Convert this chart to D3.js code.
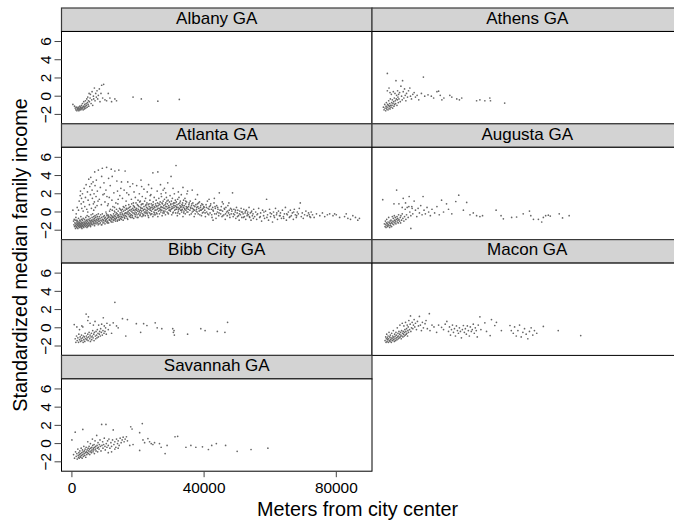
<!DOCTYPE html>
<html>
<head>
<meta charset="utf-8">
<script src="https://cdn.jsdelivr.net/npm/d3@7"></script>
<style>
  body { margin: 0; background: #fff; }
  svg { display: block; }
  text { font-family: "Liberation Sans", Arial, Helvetica, sans-serif; fill: #000; }
</style>
</head>
<body>
<svg id="chart" width="674" height="522"></svg>
<script>
// Panel titles, in reading order (left to right, top to bottom)
const cities = ["Albany GA", "Athens GA", "Atlanta GA", "Augusta GA", "Bibb City GA", "Macon GA", "Savannah GA"];

// Tract observations as flat [distance (km), standardized income, ...] lists
const albanyKm = [0.3,-0.9, 0.8,-1.1, 1.0,-1.3, 1.2,-1.5, 1.3,-1.2, 1.5,-1.6, 1.6,-1.4, 1.7,-1.3, 1.8,-1.5, 1.9,-1.2, 2.0,-1.4, 2.1,-1.6, 2.2,-1.3, 2.3,-1.5, 2.4,-1.1, 2.5,-1.4, 2.6,-1.2, 2.7,-1.5, 2.8,-1.3, 2.9,-1.0, 3.0,-1.4, 3.1,-1.2, 3.2,-0.8, 3.3,-1.3, 3.4,-1.5, 3.5,-1.1, 3.6,-0.6, 3.7,-1.2, 3.8,-1.4, 3.9,-0.9, 4.0,-1.1, 4.1,-0.5, 4.2,-1.3, 4.3,-0.8, 4.4,-1.0, 4.5,-0.3, 4.6,-1.2, 4.7,-0.7, 4.8,-0.1, 4.9,-0.9, 5.0,-0.5, 5.1,-1.1, 5.2,0.3, 5.3,-0.6, 5.5,-0.2, 5.6,0.2, 5.8,-0.8, 6.0,-0.4, 6.1,0.5, 6.3,-1.0, 6.5,0.0, 6.6,-0.3, 6.8,0.9, 7.0,-0.5, 7.2,0.3, 7.4,-0.1, 7.6,0.6, 7.8,-0.3, 8.0,0.1, 8.3,0.8, 8.5,-0.6, 8.8,0.3, 9.0,1.2, 9.3,-0.2, 9.6,1.3, 10.0,-0.4, 10.5,-0.5, 11.0,0.3, 11.5,-0.2, 12.0,-0.6, 13.0,-0.3, 13.5,-0.5, 18.5,-0.1, 21.0,-0.3, 26.0,-0.55, 32.5,-0.35];

const athensKm = [0.3,-1.2, 0.5,-1.5, 0.7,-0.9, 0.8,-1.3, 1.0,-1.6, 1.1,-1.1, 1.2,-0.7, 1.3,-1.4, 1.4,-1.2, 1.5,2.5, 1.5,0.6, 1.6,-0.9, 1.7,-1.5, 1.8,-1.0, 1.9,-0.5, 2.0,-1.3, 2.0,0.9, 2.1,-1.1, 2.2,-0.8, 2.3,-1.4, 2.3,0.4, 2.4,-0.3, 2.5,-1.0, 2.6,-1.2, 2.7,0.2, 2.8,-0.7, 2.9,-1.0, 3.0,-0.4, 3.1,-1.3, 3.2,-0.8, 3.3,0.5, 3.4,-0.6, 3.5,-1.1, 3.6,-0.2, 3.7,-0.9, 3.8,0.3, 3.9,-0.5, 4.0,-0.8, 4.1,1.7, 4.2,-0.3, 4.3,0.1, 4.4,-1.0, 4.5,-0.4, 4.6,0.6, 4.7,-0.1, 4.8,-0.7, 4.9,0.2, 5.0,-0.3, 5.2,0.4, 5.4,-0.6, 5.6,1.1, 5.8,0.0, 6.0,-0.4, 6.1,1.7, 6.3,0.5, 6.5,-0.2, 6.7,0.8, 6.9,0.1, 7.1,-0.5, 7.3,0.3, 7.6,-0.1, 7.9,0.6, 8.3,0.9, 8.5,0.0, 8.8,-0.3, 9.2,0.2, 9.6,0.4, 10.0,-0.1, 10.5,0.1, 11.0,-0.4, 11.8,0.3, 12.4,2.1, 12.8,0.0, 13.8,0.15, 14.8,0.0, 15.5,-0.2, 16.5,0.5, 17.0,0.55, 17.5,0.1, 18.0,-0.4, 18.6,-0.2, 20.4,0.1, 21.0,-0.1, 22.5,-0.3, 23.3,-0.4, 24.0,-0.2, 28.5,-0.5, 29.5,-0.4, 31.0,-0.5, 32.5,-0.2, 32.7,-0.5, 37.0,-0.75];

const atlantaKm = [
  0.3,0.2, 0.5,-1.0, 0.6,-1.4, 0.7,-0.8, 0.8,-1.6, 0.9,-1.2, 1.0,-1.5, 1.0,-0.9, 1.1,-1.8, 1.2,-1.3, 1.2,-0.6, 1.3,-1.6, 1.4,-1.1, 1.4,-1.4, 1.5,-1.7, 1.5,-0.9, 1.6,-1.3, 1.7,-1.5, 1.7,-1.0, 1.8,-1.8, 1.8,-1.2, 1.9,-1.4, 2.0,-1.6, 2.0,-0.7, 2.1,-1.3, 2.1,-1.1, 2.2,-1.5, 2.3,-1.7, 2.3,-1.2, 2.4,-0.9, 2.4,-1.4, 2.5,-1.6, 2.5,-1.0, 2.6,-1.3, 2.7,-1.5, 2.7,-0.5, 2.8,-1.2, 2.8,-1.7, 2.9,-1.4, 2.9,-0.8, 3.0,-1.1, 3.0,-1.6,
  1.6,0.5, 2.2,1.2, 2.5,1.8, 2.8,0.9, 2.0,0.2, 1.3,-0.2, 2.6,2.3, 2.9,1.5, 3.0,0.4,
  3.1,-1.3, 3.2,-1.5, 3.2,-0.9, 3.3,-1.2, 3.4,-1.6, 3.4,-0.7, 3.5,-1.4, 3.6,-1.1, 3.6,-1.7, 3.7,-1.3, 3.8,-0.8, 3.8,-1.5, 3.9,-1.2, 4.0,-1.0, 4.0,-1.4, 4.1,-1.6, 4.2,-0.6, 4.2,-1.3, 4.3,-1.1, 4.4,-1.5, 4.4,-0.9, 4.5,-1.2, 4.6,-1.4, 4.6,-0.4, 4.7,-1.0, 4.8,-1.3, 4.8,-1.6, 4.9,-0.8, 5.0,-1.2, 5.0,-1.5, 5.1,-0.5, 5.2,-1.1, 5.2,-1.4, 5.3,-0.9, 5.4,-1.3, 5.5,-0.7, 5.5,-1.5, 5.6,-1.0, 5.7,-1.2, 5.8,-0.3, 5.8,-1.4, 5.9,-0.9, 6.0,-1.1, 6.0,-1.3, 6.1,-0.6, 6.2,-1.0, 6.3,-1.4, 6.3,-0.2, 6.4,-0.8, 6.5,-1.2, 6.6,-0.5, 6.6,-1.0, 6.7,-1.3, 6.8,-0.7, 6.9,-0.9, 7.0,-1.2, 7.0,-0.4, 7.1,-1.0, 7.2,-0.6, 7.3,-1.3, 7.4,-0.8, 7.5,-0.3, 7.5,-1.1, 7.6,-0.9, 7.7,-0.5, 7.8,-1.2, 7.9,-0.7, 8.0,-1.0, 8.0,-0.2,
  3.05,-1.8, 4.55,-1.7, 5.65,-1.6, 6.85,-1.5, 7.95,-1.4, 9.05,-1.4,
  3.2,2.0, 3.5,1.1, 3.7,2.6, 3.9,0.6, 4.1,1.6, 4.3,3.0, 4.5,0.3, 4.7,2.2, 4.9,1.3, 5.1,3.6, 5.3,0.8, 5.4,2.8, 5.6,1.9, 5.7,3.8, 5.9,0.4, 6.1,2.4, 6.2,1.5, 6.4,3.3, 6.5,0.9, 6.7,2.0, 6.8,1.1, 7.0,2.9, 7.1,0.5, 7.3,1.7, 7.4,3.5, 7.6,0.7, 7.7,2.3, 7.9,1.2, 8.0,4.6, 6.9,4.4, 5.9,3.1, 4.8,0.0, 3.4,0.1, 6.6,0.2,
  8.1,-0.8, 8.2,-1.3, 8.3,-0.5, 8.4,-1.0, 8.5,-0.7, 8.6,-1.2, 8.7,-0.3, 8.8,-0.9, 8.9,-1.4, 9.0,-0.6, 9.1,-1.0, 9.2,-0.2, 9.3,-0.8, 9.4,-1.2, 9.5,-0.5, 9.6,-0.9, 9.7,-1.1, 9.8,-0.4, 9.9,-0.7, 10.0,-1.3, 10.1,-0.6, 10.2,-0.9, 10.3,0.0, 10.4,-0.8, 10.5,-1.1, 10.6,-0.4, 10.7,-0.7, 10.8,-1.0, 10.9,-0.3, 11.0,-0.6, 11.1,-1.2, 11.2,-0.5, 11.3,-0.8, 11.4,0.1, 11.5,-0.9, 11.6,-0.6, 11.7,-0.3, 11.8,-1.0, 11.9,-0.7, 12.0,-0.4, 12.1,-0.8, 12.2,0.2, 12.3,-0.5, 12.4,-1.1, 12.5,-0.6, 12.6,-0.2, 12.7,-0.9, 12.8,-0.4, 12.9,-0.7, 13.0,0.0, 13.1,-0.5, 13.2,-1.0, 13.3,-0.3, 13.4,-0.7, 13.5,0.3, 13.6,-0.6, 13.7,-0.2, 13.8,-0.9, 13.9,-0.4, 14.0,0.1, 14.1,-0.6, 14.2,-0.3, 14.3,-0.8, 14.4,0.4, 14.5,-0.5, 14.6,-0.1, 14.7,-0.7, 14.8,-0.3, 14.9,0.2, 15.0,-0.5,
  8.3,1.4, 8.6,2.7, 8.9,0.8, 9.2,4.8, 9.4,1.9, 9.7,3.2, 10.0,1.1, 10.3,2.4, 10.5,4.9, 10.8,0.7, 11.1,3.7, 11.3,1.6, 11.6,2.9, 11.9,4.7, 12.1,1.3, 12.4,0.6, 12.7,2.1, 13.0,4.5, 13.3,1.0, 13.6,3.4, 13.9,0.9, 14.2,4.6, 14.5,1.8, 14.8,2.6, 9.0,3.9, 10.6,1.7, 12.2,3.9, 13.8,2.3, 11.0,0.9, 9.8,2.0, 15.0,3.3, 14.0,1.4, 12.9,0.5,
  15.1,0.0, 15.2,-0.6, 15.3,0.3, 15.4,-0.3, 15.5,-0.9, 15.6,0.1, 15.7,-0.4, 15.8,0.5, 15.9,-0.2, 16.0,-0.7, 16.1,0.2, 16.2,-0.4, 16.3,0.7, 16.4,-0.1, 16.5,-0.5, 16.6,0.3, 16.7,-0.2, 16.8,0.0, 16.9,-0.8, 17.0,0.4, 17.1,-0.3, 17.2,0.8, 17.3,-0.1, 17.4,-0.5, 17.5,0.2, 17.6,-0.2, 17.7,0.6, 17.8,-0.6, 17.9,0.1, 18.0,-0.3, 18.1,0.9, 18.2,0.0, 18.3,-0.4, 18.4,0.4, 18.5,-0.1, 18.6,0.7, 18.7,-0.7, 18.8,0.2, 18.9,-0.2, 19.0,0.5, 19.1,0.0, 19.2,-0.5, 19.3,0.3, 19.4,1.0, 19.5,-0.1, 19.6,0.4, 19.7,-0.3, 19.8,0.8, 19.9,0.1, 20.0,-0.6, 20.1,0.3, 20.2,-0.2, 20.3,0.6, 20.4,0.0, 20.5,1.1, 20.6,-0.4, 20.7,0.2, 20.8,0.5, 20.9,-0.1, 21.0,0.8, 21.1,0.1, 21.2,-0.5, 21.3,0.4, 21.4,-0.2, 21.5,0.9, 21.6,0.2, 21.7,-0.3, 21.8,0.6, 21.9,0.0, 22.0,1.2, 22.1,0.3, 22.2,-0.4, 22.3,0.7, 22.4,0.1, 22.5,-0.1, 22.6,0.5, 22.7,1.0, 22.8,-0.2, 22.9,0.4, 23.0,0.0, 23.1,0.8, 23.2,-0.6, 23.3,0.3, 23.4,0.6, 23.5,-0.1, 23.6,1.3, 23.7,0.2, 23.8,-0.3, 23.9,0.5, 24.0,0.9, 24.1,0.1, 24.2,-0.2, 24.3,0.7, 24.4,0.3, 24.5,-0.5, 24.6,1.1, 24.7,0.4, 24.8,0.0, 24.9,0.6, 25.0,-0.1,
  15.3,1.5, 15.8,2.4, 16.1,4.5, 16.4,1.2, 16.9,3.3, 17.2,1.9, 17.6,2.8, 18.0,1.4, 18.4,3.1, 18.8,2.2, 19.2,1.6, 19.6,2.9, 20.0,1.3, 20.4,2.0, 20.9,3.5, 21.3,1.7, 21.8,2.5, 22.3,1.5, 22.8,2.2, 23.2,3.0, 23.7,1.8, 24.1,2.6, 24.5,4.3, 24.9,1.6, 26.0,4.4, 16.6,2.1, 18.6,1.0, 21.1,2.8, 23.9,1.9, 20.7,1.2,
  25.1,0.5, 25.2,-0.3, 25.3,0.9, 25.4,0.2, 25.5,1.3, 25.6,-0.1, 25.7,0.6, 25.8,0.3, 25.9,1.0, 26.0,-0.5, 26.1,0.7, 26.2,0.1, 26.3,1.5, 26.4,0.4, 26.5,-0.2, 26.6,0.8, 26.7,1.1, 26.8,0.3, 26.9,0.0, 27.0,0.6, 27.1,1.7, 27.2,0.2, 27.3,-0.4, 27.4,0.9, 27.5,0.5, 27.6,1.2, 27.7,0.1, 27.8,0.7, 27.9,-0.1, 28.0,1.4, 28.1,0.4, 28.2,0.8, 28.3,-0.3, 28.4,1.0, 28.5,0.3, 28.6,1.6, 28.7,0.6, 28.8,0.0, 28.9,0.9, 29.0,0.4, 29.1,1.3, 29.2,-0.2, 29.3,0.7, 29.4,0.2, 29.5,1.1, 29.6,0.5, 29.7,1.8, 29.8,0.1, 29.9,0.8, 30.0,0.3, 30.1,1.2, 30.2,-0.3, 30.3,0.6, 30.4,1.5, 30.5,0.4, 30.6,0.9, 30.7,0.0, 30.8,1.0, 30.9,0.5, 31.0,2.0, 31.1,0.2, 31.2,0.7, 31.3,1.3, 31.4,-0.1, 31.5,0.6, 31.6,1.1, 31.7,0.3, 31.8,0.8, 31.9,-0.4, 32.0,1.4, 32.1,0.5, 32.2,0.1, 32.3,0.9, 32.4,1.6, 32.5,0.4, 32.6,-0.2, 32.7,0.7, 32.8,1.2, 32.9,0.2, 33.0,0.6, 33.1,1.9, 33.2,0.0, 33.3,0.8, 33.4,0.3, 33.5,1.0, 33.6,-0.5, 33.7,0.5, 33.8,1.3, 33.9,0.1, 34.0,0.7, 34.1,0.4, 34.2,1.5, 34.3,-0.2, 34.4,0.9, 34.5,0.2, 34.6,0.6, 34.7,1.1, 34.8,0.0, 34.9,0.5, 35.0,2.3, 35.2,0.3, 35.4,0.8, 35.6,-0.3, 35.8,1.2, 36.0,0.4, 36.2,0.7, 36.4,0.0, 36.6,1.0, 36.8,0.3, 37.0,-0.5, 37.2,0.6, 37.4,1.4, 37.6,0.1, 37.8,0.5, 38.0,0.9, 38.2,-0.2, 38.4,0.4, 38.6,1.1, 38.8,0.2, 39.0,0.7, 39.2,-0.4, 39.4,0.3, 39.6,0.8, 39.8,0.0, 40.0,0.5,
  25.8,2.3, 26.8,3.0, 27.6,2.4, 28.4,2.1, 29.0,3.2, 30.0,3.9, 31.5,5.1, 30.6,2.6, 32.2,2.2, 33.6,2.7, 34.8,2.0, 36.4,2.4, 38.0,1.9, 28.0,2.6, 27.0,2.0,
  10.15,-1.0, 10.45,-0.2, 10.75,-1.2, 11.05,-0.4, 11.35,-0.9, 11.65,0.3, 11.95,-1.1, 12.25,-0.6, 12.55,-0.9, 12.85,0.1, 13.15,-0.8, 13.45,-0.1, 13.75,-1.0, 14.05,-0.4, 14.35,-0.9, 14.65,0.3, 14.95,-0.8, 15.25,-0.2, 15.55,0.6, 15.85,-0.6, 16.15,-0.1, 16.45,0.4, 16.75,-0.7, 17.05,0.1, 17.35,0.5, 17.65,-0.4, 17.95,0.3, 18.25,-0.6, 18.55,0.2, 18.85,0.6, 19.15,-0.3, 19.45,0.2, 19.75,-0.6, 20.05,0.7, 20.35,0.1, 20.65,-0.3, 20.95,0.4, 21.25,0.9, 21.55,-0.4, 21.85,0.3, 22.15,-0.1, 22.45,0.8, 22.75,0.2, 23.05,-0.4, 23.35,0.9, 23.65,0.4, 23.95,-0.2, 24.25,0.5, 24.55,0.8, 24.85,-0.3, 25.15,0.2, 25.45,0.7, 25.75,-0.2, 26.05,0.4, 26.35,0.9, 26.65,0.2, 26.95,0.5, 27.25,1.0, 27.55,-0.1, 27.85,0.4, 28.15,0.1, 28.45,0.6, 28.75,1.2, 29.05,-0.1, 29.35,0.5, 29.65,0.2, 29.95,0.9, 30.25,0.4, 30.55,-0.1, 30.85,0.7, 31.15,1.0, 31.45,0.3, 31.75,0.5, 32.05,-0.1, 32.35,0.3, 32.65,1.0, 32.95,0.5, 33.25,0.2, 33.55,0.7, 33.85,-0.1, 34.15,0.3, 34.45,1.2, 34.75,0.4, 35.1,0.0, 35.3,0.6, 35.5,1.0, 35.7,0.2, 35.9,0.5, 36.1,-0.2, 36.3,0.9, 36.5,0.4, 36.7,0.1, 36.9,0.7, 37.1,0.2, 37.3,-0.2, 37.5,0.8, 37.7,0.3, 37.9,0.0, 38.1,0.6, 38.3,1.0, 38.5,0.1, 38.7,-0.3, 38.9,0.5, 39.1,0.2, 39.3,0.9, 39.5,-0.1, 39.7,0.4, 39.9,0.6,
  40.2,0.2, 40.4,-0.5, 40.6,0.8, 40.8,0.0, 41.0,1.2, 41.2,0.4, 41.4,-0.3, 41.6,0.6, 41.8,-0.1, 42.0,0.9, 42.2,0.3, 42.4,-0.6, 42.6,0.5, 42.8,0.1, 43.0,1.0, 43.2,-0.2, 43.4,0.4, 43.6,-0.7, 43.8,0.7, 44.0,0.0, 44.2,0.3, 44.4,-0.4, 44.6,2.1, 44.8,0.2, 45.0,-0.2, 45.2,0.6, 45.4,-0.5, 45.6,0.1, 45.8,0.9, 46.0,-0.3, 46.2,0.3, 46.4,-0.8, 46.6,0.5, 46.8,0.0, 47.0,-0.4, 47.2,0.7, 47.4,-0.1, 47.6,0.2, 47.8,-0.6, 48.0,0.4, 48.2,-0.2, 48.4,0.1, 48.6,2.1, 48.8,-0.5, 49.0,0.3, 49.2,-0.3, 49.4,0.0, 49.6,-0.7, 49.8,0.5, 50.0,-0.1, 50.2,0.2, 50.4,-0.4, 50.6,-0.9, 50.8,0.1, 51.0,-0.3, 51.2,0.4, 51.4,-0.6, 51.6,0.0, 51.8,-0.2, 52.0,0.3, 52.2,-0.5, 52.4,-0.1, 52.6,-0.8, 52.8,0.2, 53.0,-0.4, 53.2,0.0, 53.4,-0.3, 53.6,0.5, 53.8,-0.6, 54.0,-0.1, 54.2,-0.9, 54.4,0.1, 54.6,-0.4, 54.8,-0.2, 55.0,0.3,
  40.3,-0.1, 40.7,0.5, 41.1,-0.2, 41.5,0.3, 41.9,0.7, 42.3,-0.3, 42.7,0.2, 43.3,0.6, 43.7,-0.2, 44.1,0.5, 44.5,-0.1, 45.1,0.2, 45.7,-0.4, 46.1,0.4, 46.5,-0.2, 47.1,0.1, 47.7,-0.3, 48.3,0.3, 48.9,-0.2, 49.5,0.2, 50.1,-0.5, 50.7,-0.2, 51.3,0.0, 51.9,-0.6, 52.5,0.1, 53.1,-0.2, 53.7,-0.5, 54.3,0.0, 54.9,-0.7,
  41.5,1.4, 43.1,1.5, 45.5,1.1, 47.5,1.0, 42.7,-0.9,
  55.3,-0.5, 55.6,0.0, 55.9,-0.8, 56.2,-0.2, 56.5,0.4, 56.8,-0.6, 57.1,-0.1, 57.4,-1.0, 57.7,0.2, 58.0,-0.4, 58.3,-0.7, 58.6,0.1, 58.9,1.4, 59.2,-0.3, 59.5,-0.9, 59.8,0.3, 60.1,-0.5, 60.4,-0.2, 60.7,-1.1, 61.0,0.0, 61.3,-0.6, 61.6,0.4, 61.9,-0.3, 62.2,-0.8, 62.5,0.1, 62.8,-0.4, 63.1,-0.1, 63.4,-0.7, 63.7,0.2, 64.0,-0.5, 64.3,-0.2, 64.6,0.5, 64.9,-0.9, 65.2,-0.3, 65.5,0.0, 65.8,-0.6, 66.1,0.2, 66.4,-0.4, 66.7,-0.1, 67.0,-0.8, 67.3,0.3, 67.6,-0.3, 67.9,-0.6, 68.2,0.0, 68.5,-0.2, 68.8,0.4, 69.1,1.0, 69.4,-0.5, 69.7,-0.1, 70.0,-0.7,
  56.0,-0.3, 57.0,-0.5, 58.1,0.0, 59.0,-0.6, 60.0,-0.1, 61.1,-0.4, 62.0,-0.1, 63.0,-0.4, 64.1,-0.7, 65.0,-0.2, 66.0,-0.5, 67.1,0.0, 68.0,-0.4, 71.8,-0.3, 72.2,-0.6,
  70.4,-0.3, 70.8,0.1, 71.2,-0.4, 71.6,-0.1, 72.0,-0.5, 72.4,0.0, 72.8,-0.3, 73.3,-0.6, 74.0,-0.2, 75.0,-0.4, 75.8,-0.1, 76.5,-0.5, 77.3,-0.3, 78.0,-0.2, 79.0,-0.4, 79.5,-0.2, 80.0,-0.3, 81.0,-0.6, 82.5,-0.5, 83.0,-0.2, 83.5,-0.7, 84.3,-0.8, 85.0,-0.4, 85.8,-0.6, 86.5,-0.9, 87.0,-0.7
];

const augustaKm = [0.1,1.35, 0.6,-1.3, 0.8,-1.6, 0.9,-1.0, 1.0,-1.4, 1.1,-1.7, 1.2,-1.2, 1.3,-0.8, 1.4,-1.5, 1.5,-1.3, 1.6,-1.6, 1.7,-1.1, 1.8,-1.4, 1.9,-0.6, 2.0,-1.5, 2.1,-1.2, 2.2,-1.7, 2.3,-1.0, 2.4,-1.3, 2.5,-1.5, 2.6,-0.9, 2.7,-1.2, 2.8,-1.6, 2.9,-1.1, 3.0,-0.5, 3.1,-1.3, 3.2,-1.0, 3.3,-0.7, 3.4,-1.4, 3.5,-1.1, 3.5,0.9, 3.6,-0.4, 3.7,-0.9, 3.8,-1.2, 3.9,-0.6, 4.0,-1.0, 4.1,-1.3, 4.2,-0.8, 4.3,2.4, 4.4,-0.5, 4.5,-1.1, 4.6,-0.7, 4.7,-0.9, 4.8,-1.2, 4.9,-0.3, 5.0,-0.8, 5.0,0.9, 5.2,-1.0, 5.4,-0.6, 5.5,-1.2, 5.6,-0.4, 5.8,-0.9, 6.0,-0.2, 6.0,0.5, 6.2,-0.7, 6.3,1.5, 6.5,-1.0, 6.7,-0.5, 6.9,0.3, 7.0,1.0, 7.1,-0.8, 7.3,-0.3, 7.5,0.5, 7.8,-0.6, 8.0,0.6, 8.1,1.7, 8.3,0.0, 8.6,-0.4, 8.6,-1.8, 8.9,0.6, 9.0,0.4, 9.2,-0.2, 9.6,1.2, 10.0,0.2, 10.4,-0.5, 10.8,0.4, 11.2,-0.1, 11.6,0.7, 12.0,-0.3, 12.3,1.7, 12.6,0.2, 13.0,-0.2, 13.5,0.5, 14.0,0.0, 14.5,-0.4, 15.0,0.3, 15.8,-0.1, 16.5,0.6, 17.2,-0.3, 17.9,1.3, 18.5,0.0, 19.4,0.9, 20.0,0.3, 21.0,-0.2, 22.2,1.15, 23.1,1.85, 24.5,0.2, 25.5,1.05, 26.5,-0.3, 27.5,-0.1, 28.5,-0.4, 29.5,-0.5, 30.3,-0.4, 34.4,0.2, 35.9,-0.4, 36.6,-0.75, 39.1,-0.6, 40.6,-0.55, 42.6,-0.2, 44.5,0.1, 44.9,-0.4, 45.7,-0.8, 47.2,-0.8, 48.2,-1.1, 48.7,-0.6, 49.4,-0.4, 50.2,-0.35, 50.8,-0.45, 53.5,-0.2, 54.5,-0.65, 56.5,-0.4];

const bibbCityKm = [0.7,0.35, 1.0,-1.2, 1.2,-1.6, 1.4,-0.9, 1.5,0.1, 1.6,-1.4, 1.8,-1.1, 2.0,-1.6, 2.1,-0.7, 2.3,-1.3, 2.3,-0.2, 2.5,-1.0, 2.6,-1.5, 2.8,-1.2, 2.9,-0.8, 3.0,-1.4, 3.0,0.2, 3.2,-1.1, 3.3,0.1, 3.4,-1.6, 3.5,-0.9, 3.6,-1.3, 3.8,-1.0, 3.9,-1.5, 4.0,-0.6, 4.1,-1.2, 4.3,1.5, 4.4,-0.9, 4.5,-1.3, 4.6,-1.1, 4.8,-0.7, 4.8,0.8, 4.9,-1.4, 5.0,1.2, 5.1,-1.0, 5.2,-0.5, 5.4,-1.2, 5.5,-0.8, 5.5,0.5, 5.6,-1.5, 5.8,-1.0, 5.9,-0.6, 6.0,-1.3, 6.2,-0.9, 6.3,-0.3, 6.4,-1.1, 6.5,0.3, 6.6,-0.7, 6.7,-1.4, 6.8,-0.5, 7.0,0.7, 7.1,-0.9, 7.2,-1.2, 7.3,-0.4, 7.5,-0.8, 7.6,-1.1, 7.7,-0.2, 7.9,-0.6, 8.0,-1.0, 8.1,0.3, 8.3,-0.7, 8.4,-0.4, 8.6,-0.9, 8.7,-0.1, 8.9,-0.5, 9.0,0.4, 9.2,-0.8, 9.4,-0.3, 9.5,1.1, 9.7,-0.6, 9.8,0.2, 10.0,-0.4, 10.2,0.0, 10.4,-0.7, 10.6,0.5, 11.0,-0.2, 11.5,0.3, 12.0,-0.6, 12.5,0.55, 13.0,2.8, 13.5,0.2, 14.0,0.0, 15.3,1.0, 16.3,-0.9, 16.8,0.9, 19.5,0.45, 20.8,-0.5, 21.7,0.45, 22.7,0.25, 25.2,0.55, 25.8,0.0, 27.2,-0.1, 30.5,-0.1, 30.7,-0.5, 30.9,-0.3, 31.0,-0.8, 35.0,-0.7, 39.0,-0.1, 40.3,-0.3, 44.0,-0.4, 46.3,-0.5, 47.1,0.6];

const maconKm = [0.8,-1.4, 1.0,-1.0, 1.1,-1.6, 1.2,-1.2, 1.3,-0.7, 1.4,-1.5, 1.5,-1.1, 1.6,-1.3, 1.7,-0.9, 1.8,-1.6, 1.9,-1.2, 2.0,-0.5, 2.1,-1.4, 2.2,-1.0, 2.3,-1.5, 2.4,-0.8, 2.5,-1.3, 2.6,-1.1, 2.7,-1.6, 2.8,-0.6, 2.9,-1.2, 3.0,-1.4, 3.1,-0.9, 3.2,-1.1, 3.3,-0.3, 3.4,-1.3, 3.5,-1.0, 3.6,-1.5, 3.7,-0.7, 3.8,-1.2, 3.9,-0.9, 4.0,-1.4, 4.1,-0.5, 4.2,-1.1, 4.3,-0.8, 4.4,-1.3, 4.5,0.0, 4.6,-1.0, 4.7,-0.6, 4.8,-1.2, 4.9,-0.9, 5.0,-0.4, 5.1,-1.1, 5.2,-0.7, 5.3,0.3, 5.4,-1.0, 5.5,-0.5, 5.6,-0.8, 5.7,-1.2, 5.8,-0.3, 5.9,-0.9, 6.0,0.5, 6.1,-0.6, 6.2,-1.0, 6.3,-0.4, 6.4,-0.7, 6.5,0.2, 6.6,-0.9, 6.7,-0.5, 6.8,-0.2, 6.9,-0.8, 7.0,0.6, 7.1,-0.4, 7.2,-0.7, 7.3,-0.1, 7.4,-0.6, 7.5,0.3, 7.6,-0.9, 7.7,-0.3, 7.8,0.1, 7.9,-0.5, 8.0,0.8, 8.2,-0.2, 8.4,0.4, 8.5,1.3, 8.6,-0.4, 8.8,0.0, 9.0,0.6, 9.2,-0.1, 9.4,0.3, 9.6,0.9, 9.8,0.1, 10.0,0.5, 10.3,-0.2, 10.6,0.7, 10.9,0.2, 11.2,1.25, 11.5,0.3, 11.8,-0.3, 12.1,0.6, 12.4,0.0, 12.9,0.45, 13.2,0.8, 13.6,-0.1, 14.2,1.55, 14.4,-0.3, 15.0,0.3, 15.6,0.1, 16.4,-0.5, 17.0,0.3, 17.9,0.05, 18.5,-0.2, 19.0,0.4, 19.5,0.7, 20.0,-0.4, 20.3,0.1, 20.6,-0.8, 20.9,-0.2, 21.2,0.3, 21.5,-0.5, 21.8,-0.1, 22.1,-0.9, 22.4,0.2, 22.7,-0.3, 23.0,-0.6, 23.3,0.0, 23.6,-0.4, 23.9,-1.1, 24.2,-0.2, 24.5,0.25, 24.8,-0.5, 25.1,-0.1, 25.4,-0.7, 25.7,0.2, 26.0,-0.3, 26.3,-0.9, 26.6,0.1, 26.9,-0.4, 27.2,-0.2, 27.5,0.4, 27.8,-0.6, 28.1,0.0, 28.4,-0.3, 28.7,-1.0, 29.0,0.3, 29.5,1.2, 29.8,-0.2, 31.0,0.55, 31.5,-0.4, 32.6,-0.85, 33.0,0.9, 34.0,0.25, 34.5,0.6, 36.0,-0.3, 38.6,0.25, 39.0,-0.3, 39.6,-0.6, 40.0,0.1, 40.5,-0.9, 41.0,-0.3, 41.5,0.3, 42.0,-1.0, 42.5,-0.5, 43.0,-0.1, 43.5,-0.7, 44.0,-1.2, 44.5,-0.4, 45.0,0.0, 45.5,-0.8, 46.0,-0.3, 46.7,-0.6, 48.7,0.15, 53.2,-0.3, 60.0,-0.85];

const savannahKm = [0.0,0.4, 0.5,-1.2, 0.8,-1.6, 1.0,1.25, 1.1,-0.9, 1.3,-1.4, 1.5,-1.1, 1.6,-1.7, 1.8,-0.6, 1.9,-1.3, 2.0,-1.5, 2.1,-1.0, 2.2,-1.6, 2.3,-1.2, 2.4,-0.8, 2.5,-1.4, 2.6,-1.1, 2.7,-1.5, 2.8,-0.5, 2.9,-1.3, 3.0,-1.0, 3.1,-1.6, 3.2,-0.7, 3.3,1.55, 3.3,-1.2, 3.4,-0.9, 3.5,-1.4, 3.6,-0.3, 3.7,-1.1, 3.8,-0.8, 3.9,-1.3, 4.0,-0.6, 4.1,-1.0, 4.2,-1.5, 4.3,-0.4, 4.4,-0.9, 4.5,-1.2, 4.6,-0.7, 4.7,-1.0, 4.8,0.2, 4.9,-0.5, 5.0,-1.1, 5.1,-0.8, 5.2,-0.3, 5.3,-0.6, 5.4,-1.2, 5.5,-0.9, 5.6,0.0, 5.7,-0.5, 5.8,-0.8, 5.9,-1.0, 6.0,-0.4, 6.1,-0.7, 6.2,0.5, 6.3,-0.2, 6.4,-0.9, 6.5,-0.5, 6.6,-0.7, 6.7,-0.1, 6.8,-1.1, 6.9,-0.4, 7.0,0.3, 7.1,-0.6, 7.2,-0.3, 7.3,-0.8, 7.5,0.9, 7.6,-0.2, 7.7,-0.5, 7.8,-0.9, 7.9,0.1, 8.0,-0.4, 8.2,-0.6, 8.3,-0.1, 8.5,0.4, 8.6,-0.3, 8.8,-0.8, 9.0,2.1, 9.1,-0.2, 9.3,0.2, 9.4,-0.5, 9.6,-0.1, 9.8,0.6, 10.0,-0.3, 10.1,-0.7, 10.3,2.1, 10.4,0.0, 10.6,-0.4, 10.8,0.3, 11.0,-0.2, 11.0,-1.0, 11.2,0.5, 11.5,-0.5, 11.8,0.1, 12.0,-0.3, 12.0,-0.9, 12.3,0.4, 12.5,1.5, 12.7,-0.1, 13.0,0.2, 13.0,-0.6, 13.3,-0.4, 13.5,0.5, 13.8,0.0, 14.0,0.3, 14.0,-0.5, 14.3,-0.2, 14.6,0.6, 14.9,0.1, 15.2,0.4, 15.5,0.7, 15.8,0.2, 16.1,0.5, 16.5,0.75, 16.8,0.3, 17.5,-0.2, 17.8,1.85, 18.2,1.6, 18.5,-0.1, 20.5,1.2, 20.5,-0.75, 21.3,2.2, 21.5,0.4, 22.0,0.1, 23.0,0.55, 23.5,0.2, 24.0,0.0, 24.5,-0.1, 25.0,0.1, 26.5,0.0, 27.0,-0.4, 28.2,-1.1, 28.8,-0.2, 31.2,0.75, 32.0,0.8, 34.5,-0.4, 36.0,-0.2, 37.5,-0.4, 39.5,-0.35, 41.3,-0.65, 42.3,-0.2, 43.7,0.0, 46.5,-0.2, 50.0,-0.85, 54.2,-0.65, 59.3,-0.5];

const cityData = [albanyKm, athensKm, atlantaKm, augustaKm, bibbCityKm, maconKm, savannahKm];

// Axis ticks
const xTicks = [0, 40000, 80000];
const yTicks = [-2, 0, 2, 4, 6];

// Shared scale limits (meters, standardized units)
const xLimits = [-3150, 90800];
const yLimits = [-3.03, 7.1];

// ---- layout ----
const svg = d3.select("#chart");
const left = 61.5, colW = 310.5;
const top0 = 8, rowH = 115.8, stripH = 23.5, panelH = rowH - stripH;
const font = '"Liberation Sans", Arial, Helvetica, sans-serif';

function toPoints(flat) {
  const pts = [];
  for (let i = 0; i < flat.length; i += 2) pts.push({ dist: flat[i] * 1000, z: flat[i + 1] });
  return pts;
}

cities.forEach((name, i) => {
  const col = i % 2, row = Math.floor(i / 2);
  const x0 = left + col * colW;
  const yStrip = top0 + row * rowH;
  const yPanel = yStrip + stripH;

  const x = d3.scaleLinear().domain(xLimits).range([x0, x0 + colW]);
  const y = d3.scaleLinear().domain(yLimits).range([yPanel + panelH, yPanel]);

  const g = svg.append("g");

  // strip
  g.append("rect")
    .attr("x", x0).attr("y", yStrip)
    .attr("width", colW).attr("height", stripH)
    .attr("fill", "#d3d3d3").attr("stroke", "#3a3a3a").attr("stroke-width", 1.2);
  g.append("text")
    .attr("x", x0 + colW / 2).attr("y", yStrip + 15.8)
    .attr("text-anchor", "middle")
    .style("font-size", "17px").style("font-family", font)
    .text(name);

  // panel frame
  g.append("rect")
    .attr("x", x0).attr("y", yPanel)
    .attr("width", colW).attr("height", panelH)
    .attr("fill", "#fff").attr("stroke", "#000").attr("stroke-width", 1);

  // points
  g.append("g").selectAll("circle")
    .data(toPoints(cityData[i]))
    .join("circle")
    .attr("cx", d => x(d.dist))
    .attr("cy", d => y(d.z))
    .attr("r", 0.85)
    .attr("fill", "#666");

  // y axis on the left column
  if (col === 0) {
    const ax = g.append("g");
    ax.selectAll("line").data(yTicks).join("line")
      .attr("x1", x0 - 7).attr("x2", x0)
      .attr("y1", d => y(d)).attr("y2", d => y(d))
      .attr("stroke", "#444").attr("stroke-width", 1);
    ax.selectAll("text").data(yTicks).join("text")
      .attr("transform", d => `translate(${x0 - 10.5},${y(d)}) rotate(-90)`)
      .attr("text-anchor", "middle")
      .style("font-size", "15.4px").style("font-family", font)
      .text(d => d < 0 ? "\u2212" + Math.abs(d) : d);
  }

  // x axis beneath the last panel in the left column
  if (i === cities.length - 1) {
    const yb = yPanel + panelH;
    const ax = g.append("g");
    ax.selectAll("line").data(xTicks).join("line")
      .attr("x1", d => x(d)).attr("x2", d => x(d))
      .attr("y1", yb).attr("y2", yb + 6)
      .attr("stroke", "#444").attr("stroke-width", 1);
    ax.selectAll("text").data(xTicks).join("text")
      .attr("x", d => x(d)).attr("y", yb + 22)
      .attr("text-anchor", "middle")
      .style("font-size", "15.4px").style("font-family", font)
      .text(d => d);
  }
});

// axis titles
svg.append("text")
  .attr("x", 357.5).attr("y", 515.5)
  .attr("text-anchor", "middle")
  .style("font-size", "19.8px").style("font-family", font)
  .text("Meters from city center");

svg.append("text")
  .attr("transform", "translate(27,255) rotate(-90)")
  .attr("text-anchor", "middle")
  .style("font-size", "19.8px").style("font-family", font)
  .text("Standardized median family income");
</script>
</body>
</html>
